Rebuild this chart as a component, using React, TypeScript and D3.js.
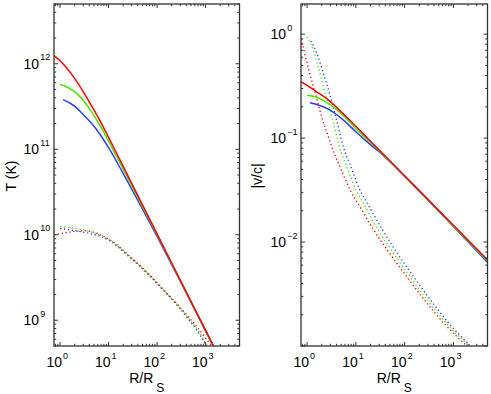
import React, { useRef, useLayoutEffect } from 'react';
import * as d3 from 'd3';

// R / R_S range shared by both panels
const xRange = [0.75, 5000];
const xTickExp = [0, 1, 2, 3];

// left panel: temperature
const tRange = [5e8, 5e12];
const tTickExp = [9, 10, 11, 12];

const rTRedSolid = [0.75, 1, 1.3, 1.65, 2.2, 3.1, 4.5, 6.8, 10, 15, 22, 42, 100, 300, 1000, 1600];
const tRedSolid = [1.25e12, 1.083e12, 9.25e11, 7.83e11, 6.22e11, 4.57e11, 3.2e11, 2.11e11, 1.38e11, 8.75e10, 5.66e10, 2.72e10, 1.023e10, 2.96e9, 7.62e8, 4.49e8];
const rTGreenSolid = [1, 1.3, 1.65, 2.2, 3.1, 4.5, 6.8, 10, 15, 22, 42, 100, 300, 1000, 1600];
const tGreenSolid = [5.74e11, 5.45e11, 5.06e11, 4.51e11, 3.67e11, 2.72e11, 1.86e11, 1.244e11, 8.02e10, 5.28e10, 2.6e10, 1.0e10, 2.93e9, 7.58e8, 4.47e8];
const rTBlueSolid = [1.15, 1.3, 1.65, 2.2, 3.1, 4.5, 6.8, 10, 15, 22, 42, 100, 300, 1000, 1600];
const tBlueSolid = [3.8e11, 3.68e11, 3.43e11, 3.05e11, 2.5e11, 2.0e11, 1.47e11, 1.042e11, 7.0e10, 4.71e10, 2.4e10, 9.55e9, 2.86e9, 7.52e8, 4.45e8];

const rTRedDot = [0.75, 1, 1.5, 2.2, 3.35, 5, 7, 10.8, 27.6, 70.4, 112, 246, 460, 735, 1170, 1400];
const tRedDot = [1.0e10, 1.03e10, 1.07e10, 1.10e10, 1.11e10, 1.07e10, 9.9e9, 8.7e9, 5.6e9, 3.4e9, 2.57e9, 1.6e9, 1.07e9, 7.8e8, 5.5e8, 4.9e8];
const rTGreenDot = [1, 1.5, 2.2, 3.1, 4.5, 6.7, 10.8, 27.6, 70.4, 112, 246, 460, 735, 1100];
const tGreenDot = [1.25e10, 1.22e10, 1.18e10, 1.14e10, 1.07e10, 1.0e10, 8.6e9, 5.5e9, 3.35e9, 2.53e9, 1.57e9, 1.03e9, 7.3e8, 4.9e8];
const rTBlueDot = [1, 1.5, 2.2, 3.1, 4.5, 6.7, 10.8, 27.6, 70.4, 112, 246, 460, 735, 1060];
const tBlueDot = [1.18e10, 1.15e10, 1.11e10, 1.07e10, 1.02e10, 9.6e9, 8.4e9, 5.4e9, 3.3e9, 2.5e9, 1.55e9, 1.0e9, 7.0e8, 4.9e8];

// right panel: |v/c|
const vRange = [1e-3, 1.95];
const vTickExp = [-2, -1, 0];

const rVRedSolid = [0.75, 1, 1.46, 2.72, 5.96, 10, 18, 30, 100, 300, 1000, 5000];
const vRedSolid = [0.348, 0.322, 0.285, 0.233, 0.165, 0.13, 0.098, 0.0768, 0.0434, 0.0258, 0.0145, 0.00675];
const rVGreenSolid = [1, 1.46, 2.72, 5.96, 10, 18, 30, 100, 300, 1000, 5000];
const vGreenSolid = [0.258, 0.25, 0.216, 0.159, 0.123, 0.095, 0.0758, 0.0432, 0.0256, 0.0143, 0.0066];
const rVBlueSolid = [1.15, 1.46, 2.72, 5.96, 10, 18, 30, 100, 300, 1000, 5000];
const vBlueSolid = [0.219, 0.213, 0.19, 0.145, 0.115, 0.09, 0.074, 0.0428, 0.0253, 0.0141, 0.0064];

const rVRedDot = [0.75, 0.85, 1.0, 1.2, 1.5, 1.99, 2.6, 3.19, 4.72, 7.54, 12, 22.6, 45.6, 108, 277, 707, 1805];
const vRedDot = [0.9, 0.72, 0.52, 0.38, 0.26, 0.16, 0.11, 0.083, 0.053, 0.032, 0.022, 0.0133, 0.0082, 0.0047, 0.00264, 0.00157, 0.00102];
const rVGreenDot = [0.99, 1.34, 1.7, 2.15, 2.95, 3.6, 4.6, 6.5, 10, 15.5, 28, 55, 126, 315, 790, 2000];
const vGreenDot = [0.94, 0.7, 0.48, 0.31, 0.187, 0.13, 0.083, 0.053, 0.032, 0.022, 0.0133, 0.0082, 0.0047, 0.00264, 0.00157, 0.00102];
const rVBlueDot = [1.2, 1.7, 2.15, 2.95, 4.0, 5.5, 7.9, 12, 18.7, 34.5, 66, 150, 367, 890, 2170];
const vBlueDot = [0.86, 0.6, 0.42, 0.26, 0.15, 0.083, 0.053, 0.032, 0.022, 0.0133, 0.0082, 0.0047, 0.00264, 0.00157, 0.00102];

const RED = '#ff0000';
const GREEN = '#44e800';
const BLUE = '#2a3fff';
const FONT = "'Liberation Sans', Arial, Helvetica, sans-serif";

const tSeries = [
    { r: rTBlueDot, v: tBlueDot, color: BLUE, dotted: true },
    { r: rTGreenDot, v: tGreenDot, color: GREEN, dotted: true },
    { r: rTRedDot, v: tRedDot, color: RED, dotted: true },
    { r: rTBlueSolid, v: tBlueSolid, color: BLUE, dotted: false },
    { r: rTGreenSolid, v: tGreenSolid, color: GREEN, dotted: false },
    { r: rTRedSolid, v: tRedSolid, color: RED, dotted: false }
];

const vSeries = [
    { r: rVBlueDot, v: vBlueDot, color: BLUE, dotted: true },
    { r: rVGreenDot, v: vGreenDot, color: GREEN, dotted: true },
    { r: rVRedDot, v: vRedDot, color: RED, dotted: true },
    { r: rVBlueSolid, v: vBlueSolid, color: BLUE, dotted: false },
    { r: rVGreenSolid, v: vGreenSolid, color: GREEN, dotted: false },
    { r: rVRedSolid, v: vRedSolid, color: RED, dotted: false }
];

const isDecade = (t: number) => Math.abs(Math.log10(t) - Math.round(Math.log10(t))) < 1e-6;

const drawPanel = (svg: any, o: any) => {
    const { id, x0, x1, y0, y1, yDomain, yTicks, yLabel, yLabelX, series } = o;
    const xScale = d3.scaleLog().domain(xRange).range([x0, x1]);
    const yScale = d3.scaleLog().domain(yDomain).range([y1, y0]);
    const g = svg.append('g');

    g.append('clipPath').attr('id', id)
        .append('rect').attr('x', x0).attr('y', y0).attr('width', x1 - x0).attr('height', y1 - y0);

    const line = d3.line<[number, number]>()
        .x(d => xScale(d[0]))
        .y(d => yScale(d[1]))
        .curve(d3.curveMonotoneX);

    series.forEach((s: any) => {
        g.append('path')
            .datum(d3.zip(s.r, s.v))
            .attr('clip-path', `url(#${id})`)
            .attr('fill', 'none')
            .attr('stroke', s.color)
            .attr('stroke-width', s.dotted ? 1.3 : 1.5)
            .attr('stroke-dasharray', s.dotted ? '1.3,2.6' : null)
            .attr('d', line);
    });

    const ax = g.append('g').attr('stroke', '#333').attr('stroke-width', 1);

    // ticks on all four sides, pointing inward
    xScale.ticks().forEach(t => {
        const x = xScale(t);
        const len = isDecade(t) ? 4 : 2.2;
        ax.append('line').attr('x1', x).attr('x2', x).attr('y1', y1).attr('y2', y1 - len);
        ax.append('line').attr('x1', x).attr('x2', x).attr('y1', y0).attr('y2', y0 + len);
    });
    yScale.ticks().forEach(t => {
        const y = yScale(t);
        const len = isDecade(t) ? 4 : 2.2;
        ax.append('line').attr('x1', x0).attr('x2', x0 + len).attr('y1', y).attr('y2', y);
        ax.append('line').attr('x1', x1).attr('x2', x1 - len).attr('y1', y).attr('y2', y);
    });

    ax.append('rect')
        .attr('x', x0).attr('y', y0)
        .attr('width', x1 - x0).attr('height', y1 - y0)
        .attr('fill', 'none')
        .attr('stroke-width', 1.3);

    const txt = g.append('g').attr('font-family', FONT).attr('fill', '#000');

    xTickExp.forEach(e => {
        const x = xScale(Math.pow(10, e));
        txt.append('text').attr('x', x + 2).attr('y', y1 + 21)
            .attr('text-anchor', 'end').attr('font-size', 14).text('10');
        txt.append('text').attr('x', x + 3).attr('y', y1 + 13)
            .attr('text-anchor', 'start').attr('font-size', 9).text(String(e));
    });

    yTicks.forEach((e: number) => {
        const y = yScale(Math.pow(10, e));
        txt.append('text').attr('x', x0 - 15).attr('y', y + 5)
            .attr('text-anchor', 'end').attr('font-size', 14).text('10');
        txt.append('text').attr('x', x0 - 13.7).attr('y', y - 3.3)
            .attr('text-anchor', 'start').attr('font-size', 9)
            .text(e < 0 ? '\u2212' + Math.abs(e) : String(e));
    });

    // x-axis label with subscript
    const xl = txt.append('text')
        .attr('x', (x0 + x1) / 2)
        .attr('y', y1 + 37)
        .attr('text-anchor', 'middle')
        .attr('font-size', 14);
    xl.append('tspan').text('R/R');
    xl.append('tspan').attr('dx', 3).attr('dy', 9).attr('font-size', 12).text('S');

    // y-axis label
    txt.append('text')
        .attr('transform', `translate(${yLabelX},${(y0 + y1) / 2 + 1}) rotate(-90)`)
        .attr('text-anchor', 'middle')
        .attr('font-size', 14)
        .text(yLabel);
};

const Chart = () => {
    const ref = useRef<SVGSVGElement>(null);

    useLayoutEffect(() => {
        const svg = d3.select(ref.current);
        svg.selectAll('*').remove();

        drawPanel(svg, {
            id: 'clipT', x0: 54, x1: 239.5, y0: 4, y1: 346,
            yDomain: tRange, yTicks: tTickExp, yLabel: 'T (K)', yLabelX: 16, series: tSeries
        });
        drawPanel(svg, {
            id: 'clipV', x0: 301, x1: 487.5, y0: 4, y1: 346,
            yDomain: vRange, yTicks: vTickExp, yLabel: '|v/c|', yLabelX: 262, series: vSeries
        });
    }, []);

    return (
        <svg ref={ref} width={491} height={394}
            style={{ position: 'absolute', left: 0, top: 0, background: '#fff' }} />
    );
};

export default function App() {
    return <Chart />;
}
